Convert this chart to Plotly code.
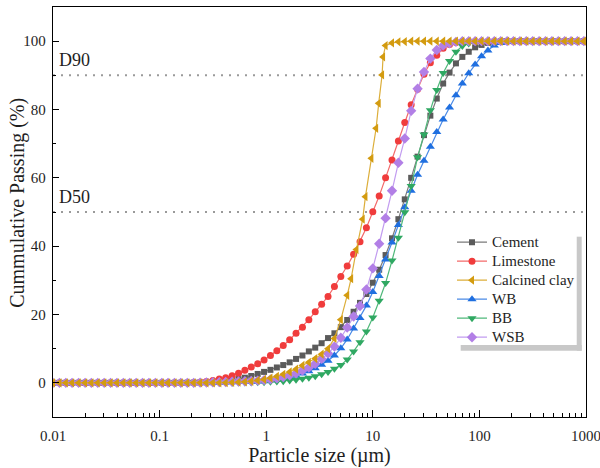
import plotly.graph_objects as go

# Particle size classes (µm)
SIZES = [0.010, 0.0115, 0.0132, 0.0151, 0.0174, 0.0200, 0.0229, 0.0263, 0.0302, 0.0347,
         0.0398, 0.0457, 0.0525, 0.0603, 0.0692, 0.0794, 0.0912, 0.105, 0.120, 0.138,
         0.158, 0.182, 0.209, 0.240, 0.275, 0.316, 0.363, 0.417, 0.479, 0.550,
         0.631, 0.724, 0.832, 0.955, 1.096, 1.259, 1.445, 1.660, 1.905, 2.188,
         2.512, 2.884, 3.311, 3.802, 4.365, 5.012, 5.754, 6.607, 7.586, 8.710,
         10.00, 11.48, 13.18, 15.14, 17.38, 19.95, 22.91, 26.30, 30.20, 34.67,
         39.81, 45.71, 52.48, 60.26, 69.18, 79.43, 91.20, 104.7, 120.2, 138.0,
         158.5, 182.0, 208.9, 239.9, 275.4, 316.2, 363.1, 416.9, 478.6, 549.5,
         631.0, 724.4, 831.8, 955.0]

# Cumulative passing (%)
CEMENT = [0] * 20 + [
    0.02, 0.03, 0.05, 0.08, 0.12, 0.18, 0.25, 0.4, 0.7, 1.1,
    1.5, 2.0, 2.6, 3.2, 3.8, 4.5, 5.2, 6.0, 7.0, 8.0,
    9.2, 10.3, 11.6, 13.1, 14.5, 16.3, 18.4, 20.8, 23.4, 26.0,
    29.3, 33.1, 37.4, 42.3, 47.9, 53.7, 60.0, 66.2, 72.5, 78.2,
    83.2, 87.6, 90.8, 93.5, 95.4, 96.9, 98.2, 98.9, 99.5, 99.8] + [100] * 14

LIMESTONE = [0] * 21 + [
    0.05, 0.1, 0.2, 0.4, 0.7, 1.1, 1.5, 2.1, 2.8,
    3.7, 4.6, 5.6, 6.7, 8.0, 9.4, 10.9, 12.6, 14.5, 16.3,
    18.5, 20.8, 23.0, 25.3, 28.2, 31.1, 34.2, 37.6, 41.3, 45.4,
    50.1, 54.7, 60.0, 65.2, 70.8, 76.2, 81.4, 85.9, 90.3, 93.7,
    95.9, 97.9, 99.0, 99.6, 99.9] + [100] * 19

# Calcined clay was measured with a few extra classes through its steep rise
CLAY_STEEP_SIZES = [6.26, 7.02, 8.04, 8.53, 9.70, 10.74, 11.36, 12.22, 12.48, 13.18]
CLAY_SIZES = SIZES[:47] + CLAY_STEEP_SIZES + SIZES[53:]
CALCINED_CLAY = [0] * 27 + [
    0.05, 0.1, 0.2, 0.3, 0.45, 0.7, 1.0, 1.4, 1.9, 2.5,
    3.2, 4.0, 5.1, 6.0, 7.1, 8.4, 10.0, 13.0, 18.5, 25.6] + [
    30.5, 39.0, 47.9, 54.5, 65.7, 74.5, 81.8, 90.1, 95.4, 98.7] + [
    99.5, 99.8, 99.9] + [100] * 28

WB = [0] * 24 + [
    0.05, 0.08, 0.1, 0.15, 0.2, 0.25, 0.3, 0.35, 0.4, 0.5,
    0.7, 0.9, 1.2, 1.6, 2.1, 2.7, 3.4, 4.3, 5.3, 6.5,
    8.0, 10.1, 12.7, 15.9, 19.0, 22.6, 26.6, 31.3, 36.1, 41.1,
    46.2, 51.4, 56.2, 60.9, 65.0, 69.1, 73.4, 77.1, 80.6, 84.2,
    87.6, 90.6, 93.2, 95.6, 97.3, 98.7, 99.5, 99.9] + [100] * 12

BB = [0] * 27 + [
    0.03, 0.05, 0.07, 0.1, 0.12, 0.15, 0.2, 0.3, 0.4, 0.5,
    0.7, 0.9, 1.2, 1.5, 1.9, 2.5, 3.2, 4.1, 5.2, 6.8,
    9.2, 11.9, 15.0, 19.1, 24.0, 29.2, 35.8, 42.5, 49.9, 57.6,
    66.0, 72.7, 79.8, 85.7, 90.7, 94.2, 96.9, 98.6, 99.3, 99.8] + [100] * 17

WSB = [0] * 23 + [
    0.05, 0.1, 0.15, 0.2, 0.25, 0.3, 0.4, 0.45, 0.55, 0.65,
    0.8, 1.0, 1.3, 1.7, 2.2, 2.8, 3.6, 4.5, 5.6, 7.0,
    8.6, 10.6, 13.2, 16.2, 19.4, 22.5, 27.3, 33.5, 40.7, 48.2,
    56.2, 64.4, 71.5, 79.6, 86.1, 91.0, 94.9, 97.4, 98.7, 99.4,
    99.8] + [100] * 20

REF_LEVELS = [90, 50]
REF_LABELS = ["D90", "D50"]

X_TICKS = [0.01, 0.1, 1, 10, 100, 1000]
X_TICK_TEXT = ["0.01", "0.1", "1", "10", "100", "1000"]

FONT = "Liberation Serif"
INK = "#1e1e1e"

# name, x, y, marker symbol, marker colour, line colour, marker size, legend rank
traces = [
    ("Cement", SIZES, CEMENT, "square", "#5b5b5b", "#7a7a7a", 6, 1),
    ("Limestone", SIZES, LIMESTONE, "circle", "#f03c3c", "#f36a6a", 7, 2),
    ("WB", SIZES, WB, "triangle-up", "#1f6fe0", "#4a8ae6", 8, 4),
    ("BB", SIZES, BB, "triangle-down", "#2fa862", "#4fb87a", 8, 5),
    ("WSB", SIZES, WSB, "diamond", "#b27fe6", "#c29cf0", 8, 6),
    ("Calcined clay", CLAY_SIZES, CALCINED_CLAY, "triangle-left", "#d39b10", "#dcae3a", 8, 3),
]

fig = go.Figure()
for name, xs, ys, sym, mcol, lcol, msize, rank in traces:
    fig.add_trace(go.Scatter(
        x=xs, y=ys, mode="lines+markers",
        # legend rows are packed tightly; the label itself is set a little larger
        name=f'<span style="font-size:15px">{name}</span>',
        line=dict(color=lcol, width=1.2),
        marker=dict(symbol=sym, color=mcol, size=msize, line=dict(width=0)),
        legendrank=rank,
    ))

# D90 / D50 reference lines with their labels
for lvl, lab in zip(REF_LEVELS, REF_LABELS):
    fig.add_shape(type="line", xref="paper", x0=0, x1=1, yref="y", y0=lvl, y1=lvl,
                  line=dict(color="#9a9a9a", width=2, dash="2px,6px"), layer="below")
    fig.add_annotation(xref="paper", x=0.008, yref="y", y=lvl, text=lab,
                       showarrow=False, xanchor="left", yanchor="bottom", yshift=3,
                       font=dict(family=FONT, size=18, color=INK))

# y-axis title
fig.add_annotation(xref="paper", x=-0.066, yref="paper", y=0.522,
                   text="Cummulative Passing (%)", textangle=-90, showarrow=False,
                   xanchor="center", yanchor="middle",
                   font=dict(family=FONT, size=20, color=INK))

# legend drop shadow
shadow = "#c8c8c8"
fig.add_shape(type="rect", xref="paper", yref="paper", x0=0.9826, x1=0.9919,
              y0=0.1617, y1=0.4398, fillcolor=shadow, line=dict(width=0))
fig.add_shape(type="rect", xref="paper", yref="paper", x0=0.7649, x1=0.9919,
              y0=0.1617, y1=0.1756, fillcolor=shadow, line=dict(width=0))

axis_common = dict(
    showline=True, linecolor="black", linewidth=1.3, mirror=True,
    ticks="inside", tickcolor="black", showgrid=False, zeroline=False,
    tickfont=dict(family=FONT, size=15, color=INK),
)

fig.update_xaxes(
    type="log", range=[-2, 3], tickvals=X_TICKS, ticktext=X_TICK_TEXT,
    ticklen=7, tickwidth=1.2, ticklabelstandoff=5, ticklabeloverflow="allow",
    minor=dict(ticks="inside", ticklen=4, tickcolor="black", tickwidth=1, dtick="D1", showgrid=False),
    title=dict(text="Particle size (µm)", font=dict(family=FONT, size=20, color=INK), standoff=2),
    **axis_common,
)
fig.update_yaxes(
    range=[-10, 110], tick0=0, dtick=20, ticklen=6, tickwidth=1.2, ticklabelstandoff=3,
    minor=dict(ticks="inside", ticklen=3, tickcolor="black", tickwidth=1, dtick=10, showgrid=False),
    **axis_common,
)

fig.update_layout(
    width=600, height=468,
    margin=dict(l=53, r=14, t=7, b=51, autoexpand=False),
    paper_bgcolor="white", plot_bgcolor="white",
    font=dict(family=FONT, color=INK),
    legend=dict(x=0.7486, y=0.4617, xanchor="left", yanchor="top",
                bgcolor="rgba(0,0,0,0)", borderwidth=0, tracegroupgap=0,
                font=dict(family=FONT, size=12, color=INK)),
    showlegend=True,
)

fig.write_html("out.html")
